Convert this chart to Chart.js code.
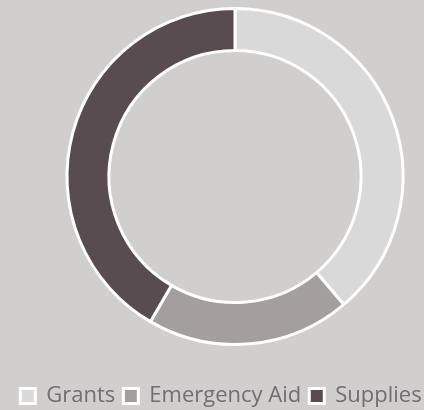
<!DOCTYPE html>
<html>
<head>
<meta charset="utf-8">
<script src="https://cdn.jsdelivr.net/npm/chart.js@4.4.1/dist/chart.umd.min.js"></script>
<style>
  html, body { margin: 0; padding: 0; background: #d0cfcd; overflow: hidden; }
  .chart-wrap { width: 442px; height: 410px; }
</style>
</head>
<body>
<div class="chart-wrap"><canvas id="fundsChart"></canvas></div>
<script>
const categories = [`Grants`, `Emergency Aid`, `Supplies`];
const shares = [38.8, 19.6, 41.6];
const sliceColors = [`#d9d9d9`, `#a39f9e`, `#594c51`];

// moves the ring right of the legend's centre line
const shiftRing = {
  id: `shiftRing`,
  afterLayout(chart, args, opts) {
    chart.chartArea.left += opts.dx * 2;
  }
};

Chart.defaults.font.family = `'Open Sans', sans-serif`;

new Chart(document.getElementById(`fundsChart`), {
  type: `doughnut`,
  data: {
    labels: categories,
    datasets: [{
      data: shares,
      backgroundColor: sliceColors,
      borderColor: `#ffffff`,
      borderWidth: 3
    }]
  },
  plugins: [shiftRing],
  options: {
    responsive: true,
    maintainAspectRatio: false,
    animation: false,
    cutout: `75%`,
    layout: {padding: {top: 7, bottom: -7}},
    plugins: {
      shiftRing: {dx: 14},
      tooltip: {enabled: false},
      legend: {
        position: `bottom`,
        // empty title keeps a gap between the ring and the labels
        title: {display: true, text: ``, padding: {top: 19, bottom: 0}, font: {size: 10}},
        labels: {
          color: `#6f6f74`,
          font: {size: 22},
          boxWidth: 15,
          boxHeight: 15,
          padding: 8
        }
      }
    }
  }
});
</script>
</body>
</html>
